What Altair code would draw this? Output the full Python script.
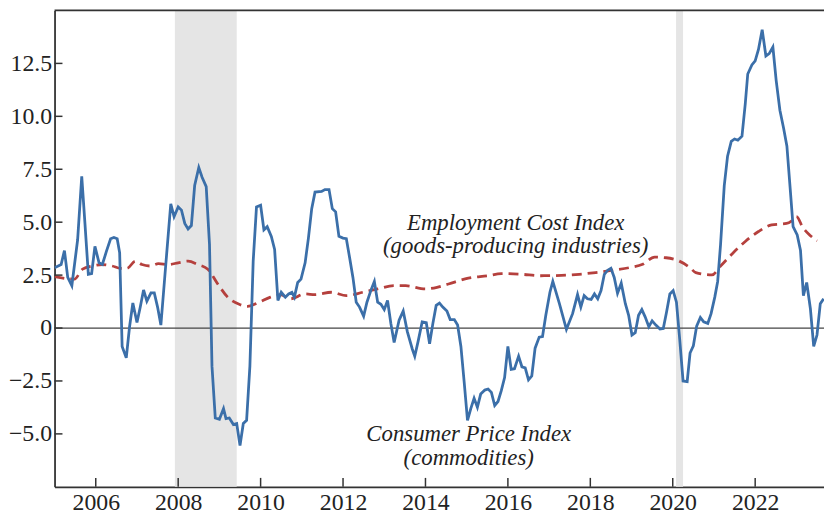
import altair as alt
import pandas as pd

# ---------------- data ----------------
cpi_year = [2005.0, 2005.16, 2005.24, 2005.32, 2005.42, 2005.56, 2005.66, 2005.74, 2005.82, 2005.90,
            2005.98, 2006.08, 2006.16, 2006.26, 2006.36, 2006.44, 2006.52, 2006.58, 2006.64, 2006.74,
            2006.82, 2006.90, 2007.0, 2007.08, 2007.16, 2007.24, 2007.34, 2007.42, 2007.50, 2007.58,
            2007.68, 2007.82, 2007.90, 2008.0, 2008.08, 2008.16, 2008.24, 2008.32, 2008.40, 2008.50,
            2008.58, 2008.68, 2008.76, 2008.82, 2008.90, 2009.0, 2009.10, 2009.16, 2009.24, 2009.34,
            2009.42, 2009.50, 2009.58, 2009.66, 2009.74, 2009.82, 2009.90, 2010.0, 2010.08, 2010.16,
            2010.26, 2010.34, 2010.42, 2010.50, 2010.60, 2010.68, 2010.76, 2010.82, 2010.90, 2010.98,
            2011.08, 2011.16, 2011.24, 2011.32, 2011.48, 2011.56, 2011.66, 2011.74, 2011.82, 2011.90,
            2012.0, 2012.08, 2012.16, 2012.24, 2012.32, 2012.40, 2012.50, 2012.58, 2012.68, 2012.76,
            2012.84, 2012.92, 2013.0, 2013.08, 2013.16, 2013.24, 2013.36, 2013.46, 2013.56, 2013.68,
            2013.74, 2013.82, 2013.92, 2014.02, 2014.10, 2014.18, 2014.26, 2014.34, 2014.42, 2014.52,
            2014.60, 2014.70, 2014.78, 2014.86, 2014.94, 2015.02, 2015.10, 2015.18, 2015.26, 2015.34,
            2015.44, 2015.52, 2015.60, 2015.68, 2015.76, 2015.84, 2015.92, 2016.0, 2016.08, 2016.16,
            2016.26, 2016.34, 2016.42, 2016.50, 2016.58, 2016.66, 2016.76, 2016.84, 2016.92, 2017.02,
            2017.09, 2017.25, 2017.42, 2017.57, 2017.69, 2017.77, 2017.85, 2017.93, 2018.02, 2018.10,
            2018.18, 2018.26, 2018.34, 2018.42, 2018.50, 2018.58, 2018.66, 2018.75, 2018.85, 2018.93,
            2019.01, 2019.09, 2019.17, 2019.25, 2019.33, 2019.42, 2019.50, 2019.59, 2019.69, 2019.77,
            2019.85, 2019.93, 2020.01, 2020.09, 2020.17, 2020.25, 2020.35, 2020.42, 2020.50, 2020.58,
            2020.67, 2020.75, 2020.85, 2020.93, 2021.02, 2021.09, 2021.16, 2021.25, 2021.33, 2021.42,
            2021.50, 2021.58, 2021.68, 2021.76, 2021.82, 2021.92, 2022.0, 2022.08, 2022.17, 2022.26,
            2022.34, 2022.43, 2022.51, 2022.60, 2022.69, 2022.77, 2022.85, 2022.92, 2023.02, 2023.10,
            2023.17, 2023.25, 2023.34, 2023.42, 2023.50, 2023.58, 2023.66]
cpi_value = [2.85, 3.0, 3.66, 2.39, 2.0, 4.17, 7.16, 4.87, 2.54, 2.57,
             3.86, 3.08, 3.0, 3.63, 4.22, 4.28, 4.22, 3.55, -0.87, -1.41,
             0.06, 1.18, 0.26, 0.99, 1.80, 1.27, 1.66, 1.66, 0.99, 0.14,
             2.54, 5.87, 5.26, 5.72, 5.57, 4.94, 4.68, 4.84, 6.73, 7.58,
             7.12, 6.68, 3.94, -1.80, -4.25, -4.31, -3.81, -4.28, -4.25, -4.56,
             -4.51, -5.55, -4.51, -4.36, -1.80, 3.16, 5.72, 5.80, 4.64, 4.79,
             4.33, 3.71, 1.30, 1.69, 1.46, 1.61, 1.69, 1.46, 2.15, 2.31,
             3.08, 4.25, 5.64, 6.42, 6.45, 6.54, 6.54, 5.64, 5.49, 4.33,
             4.25, 4.22, 3.32, 2.39, 1.22, 0.99, 0.56, 1.22, 1.80, 2.20,
             1.22, 1.12, 0.87, 1.30, 0.22, -0.68, 0.37, 0.80, -0.17, -0.99,
             -1.33, -0.64, 0.29, 0.25, -0.74, 0.22, 1.07, 1.18, 0.99, 0.80,
             0.40, 0.40, 0.14, -0.87, -2.57, -4.36, -3.81, -3.32, -3.74, -3.12,
             -2.93, -2.88, -3.04, -3.66, -3.47, -2.96, -2.34, -0.87, -1.95, -1.92,
             -1.33, -1.83, -1.88, -2.45, -2.26, -0.95, -0.43, -0.40, 0.60, 1.69,
             2.20, 1.15, -0.06, 0.68, 1.58, 0.99, 1.53, 1.38, 1.35, 1.61,
             1.38, 1.77, 2.54, 2.73, 2.82, 2.39, 1.64, 2.12, 1.15, 0.60,
             -0.33, -0.22, 0.60, 0.87, 0.53, 0.06, 0.34, 0.14, -0.05, -0.02,
             0.76, 1.61, 1.77, 1.22, -0.56, -2.50, -2.53, -1.18, -0.84, 0.09,
             0.50, 0.29, 0.22, 0.68, 1.46, 2.20, 3.94, 6.73, 8.12, 8.82,
             8.93, 8.87, 9.06, 10.60, 12.0, 12.43, 12.62, 13.16, 14.09, 12.85,
             12.96, 13.27, 11.69, 10.29, 9.44, 8.59, 6.57, 4.79, 4.40, 3.66,
             1.53, 2.15, 0.91, -0.87, -0.33, 1.15, 1.38]

eci_year = [2005.0, 2005.48, 2005.68, 2005.92, 2006.16, 2006.40, 2006.60, 2006.76, 2006.96, 2007.12,
            2007.32, 2007.52, 2007.76, 2008.0, 2008.24, 2008.48, 2008.72, 2008.96, 2009.20, 2009.48,
            2009.68, 2009.92, 2010.24, 2010.48, 2010.72, 2011.08, 2011.32, 2011.72, 2012.08, 2012.48,
            2012.84, 2013.24, 2013.52, 2014.0, 2014.28, 2014.56, 2015.04, 2015.52, 2015.84, 2016.32,
            2016.80, 2017.30, 2017.73, 2018.13, 2018.53, 2018.94, 2019.27, 2019.56, 2019.84, 2020.16,
            2020.42, 2020.56, 2020.95, 2021.16, 2021.44, 2021.76, 2022.08, 2022.40, 2022.76, 2022.88,
            2023.0, 2023.16, 2023.32, 2023.50]
eci_value = [2.43, 2.31, 2.78, 2.93, 3.0, 2.93, 2.82, 2.82, 3.16, 3.0,
             2.93, 3.04, 3.0, 3.08, 3.16, 3.0, 2.78, 2.08, 1.46, 1.12,
             1.02, 1.18, 1.46, 1.58, 1.38, 1.61, 1.58, 1.69, 1.53, 1.69,
             1.85, 2.0, 2.0, 1.85, 1.92, 2.08, 2.36, 2.47, 2.57, 2.54,
             2.47, 2.49, 2.54, 2.62, 2.73, 2.85, 3.01, 3.35, 3.32, 3.16,
             2.85, 2.62, 2.51, 2.93, 3.50, 4.09, 4.56, 4.87, 4.94, 5.05,
             5.26, 4.74, 4.40, 4.12]

rec_start = [2007.92, 2020.08]
rec_end = [2009.42, 2020.25]

x_ticks = [2006, 2008, 2010, 2012, 2014, 2016, 2018, 2020, 2022]
y_ticks = [-5.0, -2.5, 0.0, 2.5, 5.0, 7.5, 10.0, 12.5]

labels_x = [2016.19, 2016.19, 2015.05, 2015.05]
labels_y = [4.62, 3.53, -5.35, -6.45]
labels_text = ["Employment Cost Index", "(goods-producing industries)",
               "Consumer Price Index", "(commodities)"]

X_DOMAIN = [2005.0, 2023.67]
Y_DOMAIN = [-7.5, 15.0]
W, H = 777, 481
FONT = "Liberation Serif, Times New Roman, serif"

cpi = pd.DataFrame({"year": cpi_year, "value": cpi_value})
eci = pd.DataFrame({"year": eci_year, "value": eci_value})
rec = pd.DataFrame({"start": rec_start, "end": rec_end})
xt = pd.DataFrame({"year": x_ticks})
yt = pd.DataFrame({"value": y_ticks})
lab = pd.DataFrame({"year": labels_x, "value": labels_y, "text": labels_text})

xscale = alt.Scale(domain=X_DOMAIN, nice=False, zero=False)
yscale = alt.Scale(domain=Y_DOMAIN, nice=False, zero=False)

x_axis = alt.Axis(values=x_ticks, format="d", ticks=False, grid=False, title=None,
                  labelFont=FONT, labelFontSize=24, labelColor="#222", labelPadding=4,
                  domainColor="#333", domainWidth=1.8, labelFlush=False)
y_axis = alt.Axis(values=y_ticks, ticks=False, grid=False, title=None,
                  labelExpr="datum.value == 0 ? '0' : replace(format(datum.value, '.1f'), '-', '\u2212')",
                  labelFont=FONT, labelFontSize=24, labelColor="#222", labelPadding=3,
                  domainColor="#333", domainWidth=1.8)

recess = alt.Chart(rec).mark_rect(color="#e5e5e5").encode(
    x=alt.X("start:Q", scale=xscale, axis=x_axis),
    x2="end:Q",
    y=alt.value(0),
    y2=alt.value(H),
)

zero = alt.Chart(yt[yt["value"] == 0]).mark_rule(color="#444", strokeWidth=1.3).encode(
    y=alt.Y("value:Q", scale=yscale, axis=y_axis),
)

top = alt.Chart(yt.head(1)).mark_rule(color="#333", strokeWidth=1.8).encode(
    y=alt.value(0), x=alt.value(0), x2=alt.value(W)
)

eci_line = alt.Chart(eci).mark_line(color="#b5403d", strokeWidth=2.8, strokeDash=[10, 6],
                                    clip=True, interpolate="monotone").encode(
    x=alt.X("year:Q", scale=xscale),
    y=alt.Y("value:Q", scale=yscale),
)

cpi_line = alt.Chart(cpi).mark_line(color="#3b6fa9", strokeWidth=2.8, clip=True).encode(
    x=alt.X("year:Q", scale=xscale),
    y=alt.Y("value:Q", scale=yscale),
)

ytick = alt.Chart(yt).mark_rule(color="#333", strokeWidth=1.5).encode(
    y=alt.Y("value:Q", scale=yscale), x=alt.value(0), x2=alt.value(8)
)
xtick = alt.Chart(xt).mark_rule(color="#333", strokeWidth=1.5).encode(
    x=alt.X("year:Q", scale=xscale), y=alt.value(H), y2=alt.value(H - 9)
)

texts = alt.Chart(lab).mark_text(font=FONT, fontStyle="italic", fontSize=23, align="center",
                                 baseline="alphabetic", color="#222").encode(
    x=alt.X("year:Q", scale=xscale),
    y=alt.Y("value:Q", scale=yscale),
    text="text:N",
)

chart = alt.layer(recess, zero, top, eci_line, cpi_line, ytick, xtick, texts).properties(
    width=W, height=H,
    autosize=alt.AutoSizeParams(type="none"),
    padding={"left": 47, "top": 0, "right": 0, "bottom": 30},
    background="white",
).configure_view(stroke=None)

chart.save("out.html", embed_options={"renderer": "svg", "actions": False})
